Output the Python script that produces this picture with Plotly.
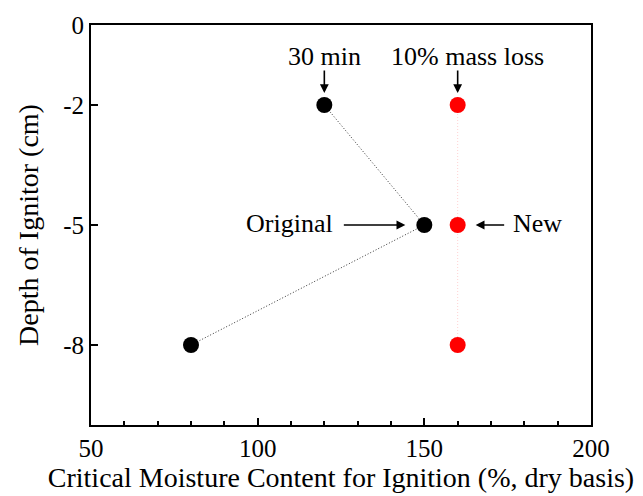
import plotly.graph_objects as go

# Critical moisture content (% dry basis) vs ignitor depth (cm)
depth = [-2, -5, -8]
moisture_30min = [120, 150, 80]        # 30 min criterion (original)
moisture_massloss = [160, 160, 160]    # 10% mass loss criterion (new)

x_ticks = [50, 100, 150, 200]
y_ticks = [0, -2, -5, -8]
y_tick_labels = ["0", "-2", "-5", "-8"]

FONT = "Liberation Serif, Times New Roman, serif"

fig = go.Figure()

fig.add_trace(go.Scatter(
    x=moisture_30min, y=depth, mode="lines+markers",
    line=dict(color="#333333", width=1, dash="1px,2px"),
    marker=dict(color="black", size=16),
    showlegend=False,
))
fig.add_trace(go.Scatter(
    x=moisture_massloss, y=depth, mode="lines+markers",
    line=dict(color="rgba(255,0,0,0.18)", width=1, dash="1px,2px"),
    marker=dict(color="#ff0000", size=16),
    showlegend=False,
))

arrow_style = dict(showarrow=True, arrowhead=2, arrowsize=1.1, arrowwidth=1.6,
                   arrowcolor="black", text="", xref="x", yref="y")
text_style = dict(showarrow=False, xref="x", yref="y",
                  font=dict(family=FONT, size=26, color="black"))

# labels above the -2 cm points
fig.add_annotation(x=moisture_30min[0], y=depth[0], ax=0, ay=-36, standoff=12, **arrow_style)
fig.add_annotation(x=moisture_massloss[0], y=depth[0], ax=0, ay=-36, standoff=12, **arrow_style)
fig.add_annotation(x=moisture_30min[0], y=depth[0], yshift=49, text="30 min", **text_style)
fig.add_annotation(x=moisture_massloss[0], y=depth[0], xshift=10, yshift=49,
                   text="10% mass loss", **text_style)

# labels beside the -5 cm points
fig.add_annotation(x=moisture_30min[1], y=depth[1], ax=-82, ay=0, standoff=19, **arrow_style)
fig.add_annotation(x=moisture_massloss[1], y=depth[1], ax=48, ay=0, standoff=18, **arrow_style)
fig.add_annotation(x=moisture_30min[1], y=depth[1], xshift=-135, yshift=2,
                   text="Original", **text_style)
fig.add_annotation(x=moisture_massloss[1], y=depth[1], xshift=80, yshift=2,
                   text="New", **text_style)

axis_common = dict(
    showgrid=False, zeroline=False, showline=True, linecolor="black", linewidth=2,
    mirror=True, ticks="inside", tickcolor="black", tickwidth=1.5,
    tickfont=dict(family=FONT, size=25, color="black"),
)

fig.update_xaxes(
    range=[50, 200], tickvals=x_ticks, ticklen=7,
    minor=dict(dtick=10, ticks="inside", ticklen=4, tickcolor="black", tickwidth=1.5),
    title=dict(text="Critical Moisture Content for Ignition (%, dry basis)",
               font=dict(family=FONT, size=28, color="black"), standoff=2),
    **axis_common,
)
fig.update_yaxes(
    range=[-10, 0], tickvals=y_ticks, ticktext=y_tick_labels, ticklen=7,
    title=dict(text="Depth of Ignitor (cm)",
               font=dict(family=FONT, size=28, color="black"), standoff=16),
    **axis_common,
)

fig.update_layout(
    width=643, height=496,
    margin=dict(l=91, r=52, t=22, b=71),
    paper_bgcolor="white", plot_bgcolor="white",
)

fig.write_html("out.html")
